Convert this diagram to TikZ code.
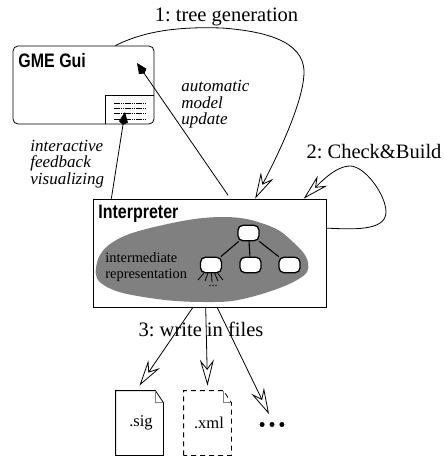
\documentclass[tikz,border=0pt]{standalone}
\usepackage{fontspec}
\setmainfont{Liberation Serif}
\setsansfont{Liberation Sans}
\usetikzlibrary{arrows.meta, positioning}
\frenchspacing
\tikzstyle{title} = [font = \sffamily\bfseries\fontsize{19.5}{19.5}\selectfont, inner sep = 0pt, anchor = north west]
\tikzstyle{steplabel} = [font = \fontsize{20.5}{20.5}\selectfont, inner sep = 0pt]
\tikzstyle{remark} = [font = \itshape\fontsize{17}{16.5}\selectfont, inner sep = 0pt, align = left]
\tikzstyle{irnode} = [draw, line width = 1.3pt, rounded corners = 5pt, fill = white, minimum width = 21pt, minimum height = 15.5pt, inner sep = 0pt]
\tikzstyle{filebox} = [minimum width = 47pt, minimum height = 64pt, inner sep = 0pt, font = \fontsize{16.5}{16.5}\selectfont]
\tikzstyle{openarrow} = [-{Stealth[open, length = 26pt, width = 14pt, inset = 9pt]}]
\tikzstyle{solidarrow} = [-{Kite[length = 13pt, width = 9pt, inset = 3pt]}]
\tikzstyle{viewrow} = [line width = 0.5pt, dash pattern = on 1.5pt off 0.7pt]

\begin{document}
\begin{tikzpicture} [x = 1pt, y = -1pt, line width = 0.8pt]
\useasboundingbox (0,0) rectangle (444,456);

% GUI window
\node (gui) [draw, rounded corners = 5pt, minimum width = 141pt, minimum height = 78pt, inner sep = 0pt] at (83.5,85) {};
\node (guititle) [title] at (18,53) {\scalebox{0.82}[1]{GME Gui}};
\node (view) [minimum width = 48pt, minimum height = 28pt, inner sep = 0pt, anchor = south east] at (gui.south east) {};
\draw (view.south west) |- (view.north east);
\draw[viewrow] (114,103) -- (146,103);
\draw[viewrow] (114,108) -- (146,108);
\draw[viewrow] (114,113) -- (146,113);
\draw[viewrow] (114,119) -- (146,119);
\coordinate (guiin) at (137,63);
\coordinate (viewin) at (125,112);

% interpreter with its gray blob
\node (interp) [draw, minimum width = 233pt, minimum height = 108pt, inner sep = 0pt] at (209.5,253) {};
\fill[gray] plot[smooth cycle, tension = 0.7] coordinates {(96,268) (113,242) (163,225) (223,217) (267,225) (293,242) (308,263) (297,280) (247,298) (205,302) (150,298) (107,287)};
\node (interptitle) [title] at (98,205) {\scalebox{0.82}[1]{Interpreter}};
\node (irtext) [font = \fontsize{14.4}{16}\selectfont, inner sep = 0pt, align = left, anchor = west] at (105,267) {intermediate\\representation};

\node (root) [irnode] at (248.5,233) {};
\node (childa) [irnode] at (211,265) {};
\node (childb) [irnode] at (250.5,265) {};
\node (childc) [irnode] at (289.5,265) {};
\draw[line width = 1.1pt] (root) -- (childa);
\draw[line width = 1.1pt] (root) -- (childb);
\draw[line width = 1.1pt] (root) -- (childc);
\coordinate (leafa) at (198,280);
\coordinate (leafb) at (205,281);
\coordinate (leafc) at (212,282);
\coordinate (leafd) at (218,281);
\coordinate (leafe) at (223,280);
\draw (childa) -- (leafa);
\draw (childa) -- (leafb);
\draw (childa) -- (leafc);
\draw (childa) -- (leafd);
\draw (childa) -- (leafe);
\node (more) [inner sep = 0pt, font = \fontsize{12}{12}\selectfont] at (213,286) {...};

% files
\node (sig) [filebox] at (139.5,423) {\hspace*{3pt}.sig};
\node (xml) [filebox] at (207.5,423) {\hspace*{3pt}.xml};
\draw (sig.south west) -- (sig.north west) -- ([xshift = -8pt]sig.north east) -- ([yshift = -12pt]sig.north east) -- (sig.south east) -- cycle;
\draw[gray] ([xshift = -8pt]sig.north east) |- ([yshift = -12pt]sig.north east);
\draw[dash pattern = on 5pt off 4pt] (xml.south west) -- (xml.north west) -- ([xshift = -8pt]xml.north east) -- ([yshift = -12pt]xml.north east) -- (xml.south east) -- cycle;
\draw[gray] ([xshift = -8pt]xml.north east) |- ([yshift = -12pt]xml.north east);
\node (etc) [inner sep = 0pt, minimum width = 24pt, minimum height = 6pt] at (272,424.5) {};
\fill (etc.west) ++(2.5,0) circle (2.5pt);
\fill (etc.center) circle (2.5pt);
\fill (etc.east) ++(-2.5,0) circle (2.5pt);

% labels
\node (treelabel) [steplabel] at (226.5,17) {1: tree generation};
\node (checklabel) [steplabel] at (374,152) {2: Check\&Build};
\node (writelabel) [steplabel] at (201,329) {3: write in files};
\node (autolabel) [remark, anchor = north west] at (181,80) {automatic\\model\\update};
\node (feedlabel) [remark, anchor = north west] at (30,139.5) {interactive\\feedback\\visualizing};

% connectors
\draw[openarrow] (gui.51) .. controls (150,28) and (190,27) .. (222,28) .. controls (262,31) and (304,40) .. (304,72) .. controls (304,105) and (270,170) .. (interp.50.5);
\draw[openarrow] (interp.12.6) .. controls (350,229) and (386,232) .. (386,212) .. controls (386,195) and (365,166) .. (350,166) .. controls (335,166) and (318,185) .. (interp.30);
\draw[solidarrow, shorten < = 4pt] (interp.69.2) -- (guiin);
\draw[solidarrow] (interp.151.5) -- (viewin);
\draw[openarrow] (interp.-107) -- ([yshift = 5pt]sig.north);
\draw[openarrow] (interp.-94.8) -- ([yshift = 5pt]xml.north);
\draw[openarrow] (interp.-82) -- ([shift = {(-3pt,7pt)}]etc.north);
\end{tikzpicture}
\end{document}
